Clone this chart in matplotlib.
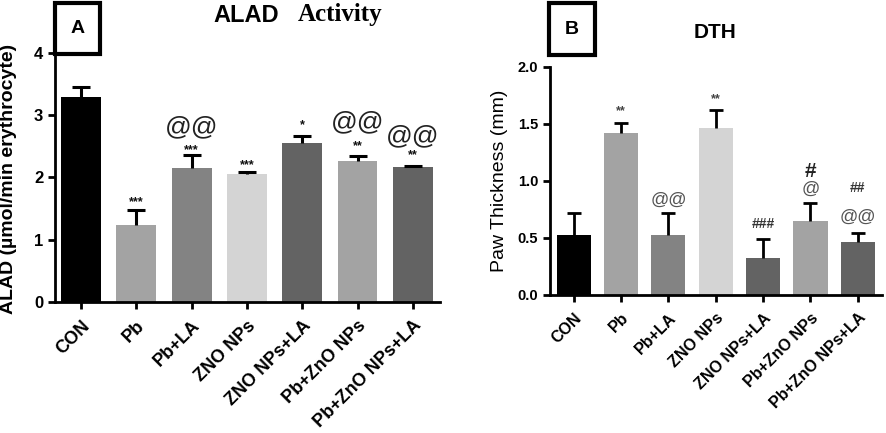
import numpy as np
import matplotlib
matplotlib.use("Agg")
import matplotlib.pyplot as plt
from matplotlib.patches import Rectangle

plt.rcParams['font.family'] = ['Liberation Sans', 'DejaVu Sans']

groups = ["CON", "Pb", "Pb+LA", "ZNO NPs", "ZNO NPs+LA", "Pb+ZnO NPs", "Pb+ZnO NPs+LA"]
bar_colors = ['#000000', '#a3a3a3', '#838383', '#d4d4d4', '#636363', '#a3a3a3', '#636363']

alad_mean = [3.29, 1.23, 2.15, 2.05, 2.55, 2.26, 2.17]
alad_sem = [0.16, 0.24, 0.21, 0.03, 0.11, 0.09, 0.02]
alad_marks = [[], ['***'], ['***', '@@'], ['***'], ['*'], ['**', '@@'], ['**', '@@']]

dth_mean = [0.525, 1.42, 0.525, 1.465, 0.327, 0.648, 0.46]
dth_sem = [0.19, 0.09, 0.19, 0.155, 0.163, 0.162, 0.08]
dth_marks = [[], ['**'], ['@@'], ['**'], ['###'], ['@', '#'], ['@@', '##']]

# pixel offsets of each mark above its error cap
alad_off = [[], [8], [5, 28], [7], [11], [9, 33], [10, 29]]
dth_off = [[], [11], [13], [11], [15], [13, 31], [16, 45]]

W, H = 886, 433
fig = plt.figure(figsize=(W / 100, H / 100), dpi=100)


def px_axes(x0, y0, x1, y1):
    return fig.add_axes([x0 / W, 1 - y1 / H, (x1 - x0) / W, (y1 - y0) / H])


def draw(ax, mean, sem, marks, offs, styles, cap_ms, err_lw, tick_fs, lab_fs):
    x = np.arange(len(groups))
    mean = np.array(mean)
    sem = np.array(sem)
    ax.bar(x, mean, width=0.72, color=bar_colors, zorder=2)
    ax.vlines(x, mean, mean + sem, color='black', lw=err_lw, zorder=3)
    ax.plot(x, mean + sem, ls='none', marker='_', ms=cap_ms, mew=err_lw, color='black', zorder=3)
    for i in range(len(groups)):
        for m, o in zip(marks[i], offs[i]):
            fs, fw, col = styles[m]
            ax.annotate(m, (x[i], mean[i] + sem[i]), xytext=(0, o * 0.72),
                        textcoords='offset points', ha='center', va='center',
                        fontsize=fs, fontweight=fw, color=col, zorder=4)
    for s in ['top', 'right']:
        ax.spines[s].set_visible(False)
    for s in ['left', 'bottom']:
        ax.spines[s].set_linewidth(2)
    ax.tick_params(width=2, length=5, labelsize=tick_fs)
    ax.tick_params(axis='x', pad=6)
    ax.set_xticks(x)
    ax.set_xticklabels(groups, rotation=45, ha='right', rotation_mode='anchor',
                       fontsize=lab_fs, fontweight='bold')


# panel A
axA = px_axes(55, 3, 440, 302)
stylesA = {'***': (9, 'bold', '#111111'), '**': (9, 'bold', '#111111'),
           '*': (9, 'bold', '#111111'), '@@': (19, 'normal', '#222222')}
draw(axA, alad_mean, alad_sem, alad_marks, alad_off, stylesA, 13, 2.2, 12, 13)
axA.set_xlim(-0.47, 6.49)
axA.set_ylim(0, 4.8)
axA.set_yticks([0, 1, 2, 3, 4])
for t in axA.get_yticklabels():
    t.set_fontweight('bold')
axA.set_ylabel('ALAD (µmol/min erythrocyte)', fontsize=14, fontweight='bold')
axA.yaxis.set_label_coords(-0.098, 0.41)

# panel B
axB = px_axes(550, 66.7, 882, 295)
stylesB = {'**': (9, 'bold', '#444444'), '@@': (13, 'normal', '#555555'),
           '###': (10, 'bold', '#333333'), '##': (10, 'bold', '#333333'),
           '#': (15, 'bold', '#222222'), '@': (13, 'normal', '#555555')}
draw(axB, dth_mean, dth_sem, dth_marks, dth_off, stylesB, 10, 2.0, 10.5, 11.5)
axB.set_xlim(-0.5, 6.51)
axB.set_ylim(0, 2.0)
axB.set_yticks([0, 0.5, 1.0, 1.5, 2.0])
axB.set_yticklabels(['0.0', '0.5', '1.0', '1.5', '2.0'])
for t in axB.get_yticklabels():
    t.set_fontweight('bold')
axB.set_ylabel('Paw Thickness (mm)', fontsize=14)
axB.yaxis.set_label_coords(-0.125, 0.5)

# titles
fig.text(246 / W, 1 - 15 / H, 'ALAD', ha='center', va='center', fontsize=17, fontweight='bold')
fig.text(340 / W, 1 - 15 / H, 'Activity', ha='center', va='center', fontsize=18,
         fontweight='bold', family='Liberation Serif')
fig.text(715 / W, 1 - 33 / H, 'DTH', ha='center', va='center', fontsize=15, fontweight='bold')

# panel letter boxes
for (x0, y0, x1, y1, lab) in [(55, 3, 100, 54, 'A'), (549, 3, 595, 55, 'B')]:
    fig.patches.append(Rectangle((x0 / W, 1 - y1 / H), (x1 - x0) / W, (y1 - y0) / H,
                                 transform=fig.transFigure, facecolor='white',
                                 edgecolor='black', lw=3, zorder=10))
    fig.text((x0 + x1) / 2 / W, 1 - (y0 + y1) / 2 / H, lab, ha='center', va='center',
             fontsize=14, fontweight='bold', zorder=11)

fig.savefig('out.png', dpi=100)
